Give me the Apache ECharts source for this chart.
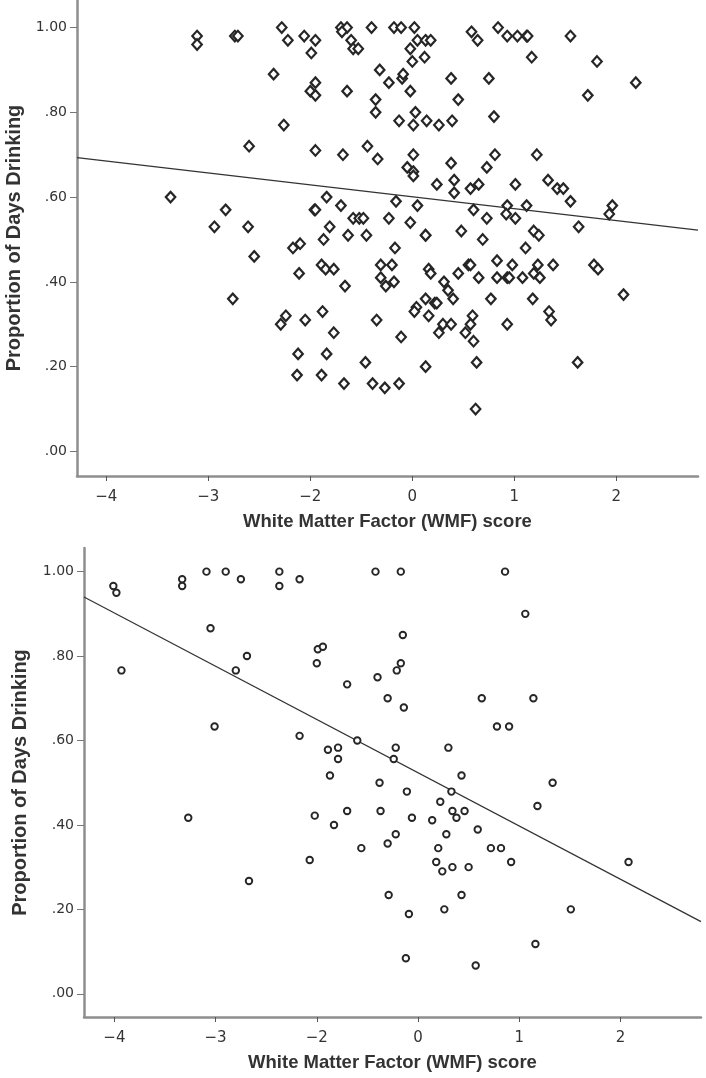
<!DOCTYPE html>
<html>
<head>
<meta charset="utf-8">
<script src="https://cdn.jsdelivr.net/npm/echarts@6/dist/echarts.min.js"></script>
<style>
  html, body { margin: 0; padding: 0; background: #fff; }
  #chart { width: 706px; height: 1078px; }
</style>
</head>
<body>
<div id="chart"></div>
<script>
// axis ticks (labels as printed in the figure)
const xTickValues = [-3, -2, -1, 0, 1, 2];
const xTickLabels = ['\u22124', '\u22123', '\u22122', '0', '1', '2'];
const yTickValues = [0, 0.2, 0.4, 0.6, 0.8, 1];
const yTickLabels = ['.00', '.20', '.40', '.60', '.80', '1.00'];

// top panel: [WMF score, proportion of days drinking]
const topPoints = [
  [-2.11, 0.98], [-2.11, 0.96], [-1.74, 0.98], [-1.71, 0.98], [-1.28, 1.00], [-1.22, 0.97], [-1.36, 0.89],
  [-1.26, 0.77], [-1.60, 0.72], [-2.37, 0.60], [-1.83, 0.57], [-1.94, 0.53], [-1.61, 0.53],
  [-1.06, 0.98], [-0.95, 0.97], [-0.99, 0.94], [-0.70, 1.00], [-0.64, 1.00], [-0.69, 0.99], [-0.60, 0.97],
  [-0.58, 0.95], [-0.53, 0.95], [-0.40, 1.00], [-0.18, 1.00], [-0.11, 1.00], [0.02, 1.00], [0.05, 0.97],
  [0.13, 0.97], [0.18, 0.97], [-0.02, 0.95], [0.12, 0.93], [0.00, 0.92], [0.58, 0.99], [0.64, 0.97], [0.84, 1.00],
  [-0.32, 0.90], [-0.10, 0.88], [-0.09, 0.89], [-0.23, 0.87], [-0.02, 0.85], [0.38, 0.88], [0.75, 0.88],
  [0.45, 0.83], [-0.95, 0.87], [-1.00, 0.85], [-0.95, 0.84], [-0.64, 0.85], [-0.36, 0.83], [-0.36, 0.80],
  [0.03, 0.80], [0.14, 0.78], [-0.13, 0.78], [0.01, 0.77], [0.26, 0.77], [0.39, 0.78], [0.80, 0.79],
  [-0.95, 0.71], [-0.68, 0.70], [-0.44, 0.72], [-0.34, 0.69], [0.01, 0.70], [0.38, 0.68], [0.81, 0.70],
  [0.73, 0.67], [-0.05, 0.67], [0.01, 0.66], [0.01, 0.65], [0.24, 0.63], [0.41, 0.64], [0.41, 0.61],
  [0.57, 0.62], [0.65, 0.63],
  [-0.84, 0.60], [-0.70, 0.58], [-0.96, 0.57], [-0.95, 0.57], [-0.16, 0.59], [0.05, 0.58], [0.60, 0.57],
  [0.73, 0.55], [-0.58, 0.55], [-0.52, 0.55], [-0.48, 0.55], [-0.23, 0.55], [-0.02, 0.54], [-0.81, 0.53],
  [-0.87, 0.50], [-0.63, 0.51], [-0.45, 0.51], [0.13, 0.51], [0.13, 0.51], [0.48, 0.52], [0.69, 0.50],
  [-0.17, 0.48], [-1.17, 0.48], [-1.10, 0.49],
  [0.93, 0.98], [1.03, 0.98], [1.12, 0.98], [1.13, 0.98], [1.17, 0.93], [1.55, 0.98], [1.81, 0.92],
  [1.72, 0.84], [2.19, 0.87], [1.22, 0.70], [1.01, 0.63], [1.33, 0.64], [1.42, 0.62], [1.48, 0.62],
  [1.55, 0.59], [1.96, 0.58], [1.93, 0.56], [0.93, 0.58], [0.92, 0.56], [1.12, 0.58], [1.01, 0.55],
  [1.63, 0.53], [1.19, 0.52], [1.24, 0.51], [1.11, 0.48],
  [-1.55, 0.46], [-1.76, 0.36], [-1.24, 0.32], [-1.29, 0.30],
  [-1.11, 0.42], [-0.89, 0.44], [-0.85, 0.43], [-0.77, 0.43], [-0.66, 0.39], [-0.31, 0.44], [-0.20, 0.44],
  [-0.31, 0.41], [-0.26, 0.39], [-0.18, 0.40], [0.16, 0.43], [0.18, 0.42], [0.31, 0.40], [0.35, 0.38],
  [0.40, 0.36], [0.45, 0.42], [0.55, 0.44], [0.57, 0.44], [0.65, 0.41], [0.83, 0.45], [0.83, 0.41], [0.77, 0.36],
  [-1.05, 0.31], [-0.88, 0.33], [-0.77, 0.28], [-0.35, 0.31], [-0.11, 0.27], [0.04, 0.34], [0.02, 0.33],
  [0.13, 0.36], [0.16, 0.32], [0.22, 0.35], [0.24, 0.35], [0.26, 0.28], [0.30, 0.30], [0.38, 0.30],
  [0.59, 0.32], [0.57, 0.30], [0.52, 0.28], [0.60, 0.26],
  [-1.12, 0.23], [-0.84, 0.23], [-1.13, 0.18], [-0.89, 0.18], [-0.67, 0.16], [-0.46, 0.21], [-0.39, 0.16],
  [-0.27, 0.15], [-0.13, 0.16], [0.13, 0.20], [0.63, 0.21], [0.62, 0.10],
  [0.98, 0.44], [0.93, 0.41], [0.95, 0.41], [1.08, 0.41], [1.23, 0.44], [1.38, 0.44], [1.19, 0.42],
  [1.25, 0.41], [1.78, 0.44], [1.82, 0.43], [1.18, 0.36], [2.07, 0.37], [1.34, 0.33], [1.36, 0.31],
  [0.93, 0.30], [1.62, 0.21]
];
const topFit = [[-3.287, 0.693], [2.80, 0.522]];

// bottom panel
const bottomPoints = [
  [-3.01, 0.966], [-2.98, 0.95], [-2.93, 0.766], [-2.33, 0.982], [-2.33, 0.966], [-2.09, 1.00], [-1.90, 1.00],
  [-1.75, 0.982], [-1.37, 1.00], [-1.37, 0.966], [-2.05, 0.866], [-1.69, 0.80], [-1.80, 0.766], [-2.01, 0.633],
  [-1.17, 0.982], [-0.42, 1.00], [-0.17, 1.00], [-0.15, 0.85], [-0.99, 0.816], [-0.94, 0.822], [-1.00, 0.783],
  [-0.17, 0.783], [-0.21, 0.766], [-0.70, 0.733], [-0.40, 0.75], [-0.30, 0.70], [-0.14, 0.678], [0.63, 0.70],
  [0.78, 0.633], [-1.17, 0.611], [-0.60, 0.60], [-0.89, 0.578], [-0.79, 0.583], [-0.79, 0.556], [-0.22, 0.583],
  [-0.24, 0.556], [0.30, 0.583], [-0.87, 0.517], [-0.38, 0.50], [0.43, 0.517], [-0.11, 0.479], [0.33, 0.479],
  [0.86, 1.00], [1.06, 0.90], [1.14, 0.70], [0.90, 0.633], [1.33, 0.50],
  [-2.27, 0.417], [-1.67, 0.267],
  [-1.02, 0.422], [-0.83, 0.40], [-0.70, 0.433], [-0.37, 0.433], [-0.06, 0.417], [0.22, 0.455], [0.14, 0.411],
  [0.34, 0.433], [0.38, 0.417], [0.46, 0.433], [0.28, 0.378], [0.59, 0.389], [-0.22, 0.378], [-0.30, 0.356],
  [-0.56, 0.345], [0.20, 0.345], [0.72, 0.345], [-1.07, 0.317], [0.18, 0.312], [0.24, 0.29], [0.34, 0.30],
  [0.50, 0.30], [-0.29, 0.234], [0.43, 0.234], [-0.09, 0.189], [0.26, 0.20], [-0.12, 0.084], [0.57, 0.067],
  [1.18, 0.445], [0.82, 0.345], [0.92, 0.312], [2.08, 0.312], [1.51, 0.20], [1.16, 0.118]
];
const bottomFit = [[-3.30, 0.940], [2.796, 0.171]];

const xTitle = 'White Matter Factor (WMF) score';
const yTitle = 'Proportion of Days Drinking';

const axisGray = '#8e8e8e';
const textColor = '#333';

function makeX(idx, min, max) {
  return {
    type: 'value', gridIndex: idx, min: min, max: max,
    name: xTitle, nameLocation: 'middle', nameGap: 36,
    nameTextStyle: { fontFamily: 'Liberation Sans', fontWeight: 'bold', fontSize: 18.5, color: textColor },
    axisLine: { onZero: false, lineStyle: { color: axisGray, width: 2.5 } },
    axisTick: { customValues: xTickValues, length: 5, lineStyle: { color: '#555', width: 1 } },
    axisLabel: {
      customValues: xTickValues, margin: 14,
      fontFamily: 'DejaVu Sans', fontSize: 15, color: textColor,
      formatter: v => xTickLabels[xTickValues.indexOf(v)]
    },
    splitLine: { show: false }
  };
}

function makeY(idx, min, max, gap) {
  return {
    type: 'value', gridIndex: idx, min: min, max: max,
    name: yTitle, nameLocation: 'middle', nameGap: gap, nameRotate: 90,
    nameTextStyle: { fontFamily: 'Liberation Sans', fontWeight: 'bold', fontSize: 20, color: textColor },
    axisLine: { show: true, onZero: false, lineStyle: { color: axisGray, width: 2.5 } },
    axisTick: { show: true, customValues: yTickValues, length: 7, lineStyle: { color: '#777', width: 1 } },
    axisLabel: {
      customValues: yTickValues, margin: 10,
      fontFamily: 'DejaVu Sans', fontSize: 14, color: textColor,
      formatter: v => yTickLabels[yTickValues.indexOf(v)]
    },
    splitLine: { show: false }
  };
}

const chart = echarts.init(document.getElementById('chart'));
chart.setOption({
  backgroundColor: '#fff',
  animation: false,
  grid: [
    { left: 77, right: 8, top: 0, height: 476, outerBoundsMode: 'none' },
    { left: 84, right: 5, top: 548, height: 469, outerBoundsMode: 'none' }
  ],
  xAxis: [makeX(0, -3.287, 2.80), makeX(1, -3.30, 2.796)],
  yAxis: [makeY(0, -0.058, 1.065, 52), makeY(1, -0.055, 1.056, 54)],
  series: [
    {
      type: 'scatter', xAxisIndex: 0, yAxisIndex: 0, data: topPoints,
      symbol: 'diamond', symbolSize: [9.5, 10.5],
      itemStyle: { color: '#fff', borderColor: '#262626', borderWidth: 2.2, opacity: 1 }
    },
    {
      type: 'line', xAxisIndex: 0, yAxisIndex: 0, data: topFit,
      symbol: 'none', lineStyle: { color: '#333', width: 1.2 }, z: 1
    },
    {
      type: 'scatter', xAxisIndex: 1, yAxisIndex: 1, data: bottomPoints,
      symbol: 'circle', symbolSize: 6.5,
      itemStyle: { color: '#fff', borderColor: '#262626', borderWidth: 1.9, opacity: 1 }
    },
    {
      type: 'line', xAxisIndex: 1, yAxisIndex: 1, data: bottomFit,
      symbol: 'none', lineStyle: { color: '#333', width: 1.2 }, z: 1
    }
  ]
});
</script>
</body>
</html>
